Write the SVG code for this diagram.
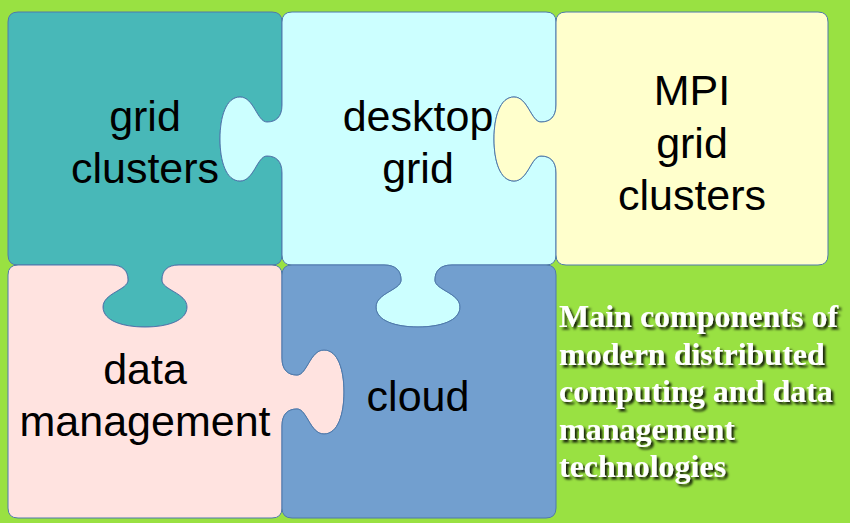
<svg xmlns="http://www.w3.org/2000/svg" width="850" height="523" viewBox="0 0 850 523">
<defs>
<style>
.piece{stroke:#4f79ad;stroke-width:1;stroke-linejoin:round}
.lbl{font-family:"Liberation Sans",Arial,sans-serif;font-size:43px;fill:#000;text-anchor:middle}
.cap{font-family:"Liberation Serif","Times New Roman",serif;font-size:32px;font-weight:bold;fill:#fff}
</style>
<filter id="sh" x="-5%" y="-20%" width="115%" height="150%">
<feDropShadow dx="2.5" dy="2.5" stdDeviation="1.2" flood-color="#000" flood-opacity="0.85"/>
</filter>
</defs>
<rect width="850" height="523" fill="#99e142"/>

<g id="grid-clusters">
<path class="piece" fill="#48b8b8" d="M18,12 H272 Q282,12 282,22 V105 C282,117 276,122 267,122 C257,122 254,97 240,97 C226,97 220,117 220,139 C220,161 226,181 240,181 C254,181 257,156 267,156 C276,156 282,161 282,173 V255 Q282,265 272,265 H179 C167,265 162,271 162,280 C162,290 187,293 187,307 C187,321 167,327 145,327 C123,327 103,321 103,307 C103,293 128,290 128,280 C128,271 123,265 111,265 H18 Q8,265 8,255 V22 Q8,12 18,12 Z"/>
<text class="lbl" x="145" y="131">grid</text>
<text class="lbl" x="145" y="183">clusters</text>
</g>

<g id="desktop-grid">
<path class="piece" fill="#ccffff" d="M292,12 H546 Q556,12 556,22 V105 C556,117 550,122 541,122 C531,122 528,97 514,97 C500,97 494,117 494,139 C494,161 500,181 514,181 C528,181 531,156 541,156 C550,156 556,161 556,173 V255 Q556,265 546,265 H452 C440,265 435,271 435,280 C435,290 460,293 460,307 C460,321 440,327 418,327 C396,327 376,321 376,307 C376,293 401,290 401,280 C401,271 396,265 384,265 H292 Q282,265 282,255 V173 C282,161 276,156 267,156 C257,156 254,181 240,181 C226,181 220,161 220,139 C220,117 226,97 240,97 C254,97 257,122 267,122 C276,122 282,117 282,105 V22 Q282,12 292,12 Z"/>
<text class="lbl" x="418" y="131">desktop</text>
<text class="lbl" x="418" y="183">grid</text>
</g>

<g id="mpi-grid-clusters">
<path class="piece" fill="#ffffcc" d="M566,12 H818 Q828,12 828,22 V255 Q828,265 818,265 H566 Q556,265 556,255 V173 C556,161 550,156 541,156 C531,156 528,181 514,181 C500,181 494,161 494,139 C494,117 500,97 514,97 C528,97 531,122 541,122 C550,122 556,117 556,105 V22 Q556,12 566,12 Z"/>
<text class="lbl" x="692" y="105">MPI</text>
<text class="lbl" x="692" y="158">grid</text>
<text class="lbl" x="692" y="210">clusters</text>
</g>

<g id="data-management">
<path class="piece" fill="#ffe3e0" d="M18,265 H111 C123,265 128,271 128,280 C128,290 103,293 103,307 C103,321 123,327 145,327 C167,327 187,321 187,307 C187,293 162,290 162,280 C162,271 167,265 179,265 H272 Q282,265 282,275 V358 C282,370 288,375 297,375 C307,375 310,350 324,350 C338,350 344,370 344,392 C344,414 338,434 324,434 C310,434 307,409 297,409 C288,409 282,414 282,426 V508 Q282,518 272,518 H18 Q8,518 8,508 V275 Q8,265 18,265 Z"/>
<text class="lbl" x="145" y="384">data</text>
<text class="lbl" x="145" y="436">management</text>
</g>

<g id="cloud">
<path class="piece" fill="#729fcf" d="M292,265 H384 C396,265 401,271 401,280 C401,290 376,293 376,307 C376,321 396,327 418,327 C440,327 460,321 460,307 C460,293 435,290 435,280 C435,271 440,265 452,265 H546 Q556,265 556,275 V508 Q556,518 546,518 H292 Q282,518 282,508 V426 C282,414 288,409 297,409 C307,409 310,434 324,434 C338,434 344,414 344,392 C344,370 338,350 324,350 C310,350 307,375 297,375 C288,375 282,370 282,358 V275 Q282,265 292,265 Z"/>
<text class="lbl" x="418" y="411">cloud</text>
</g>

<g id="caption" filter="url(#sh)">
<text class="cap" x="559" y="327">Main components of</text>
<text class="cap" x="559" y="364.5">modern distributed</text>
<text class="cap" x="559" y="402">computing and data</text>
<text class="cap" x="559" y="439.5">management</text>
<text class="cap" x="559" y="477">technologies</text>
</g>
</svg>
